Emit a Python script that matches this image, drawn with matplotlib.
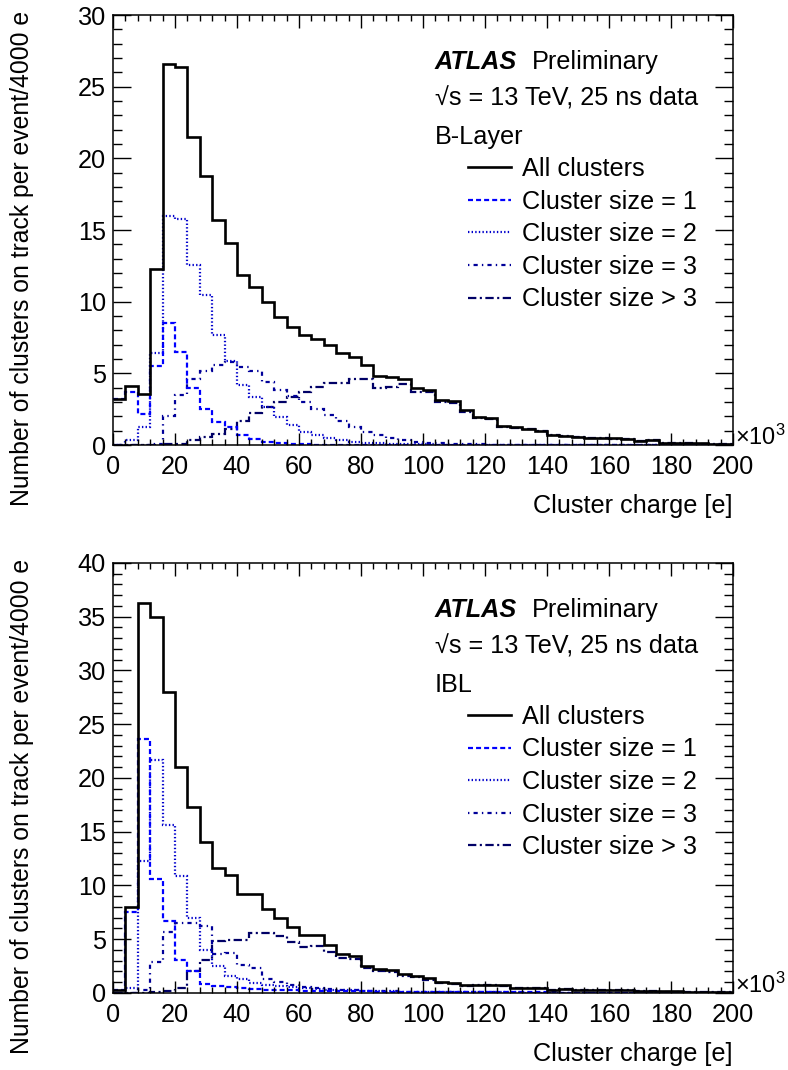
import numpy as np
import matplotlib
matplotlib.use('Agg')
import matplotlib.pyplot as plt
from matplotlib.lines import Line2D

plt.rcParams['font.family'] = ['Liberation Sans', 'DejaVu Sans']
plt.rcParams['mathtext.fontset'] = 'custom'
plt.rcParams['mathtext.rm'] = 'Liberation Sans'
plt.rcParams['mathtext.it'] = 'Liberation Sans:italic'
plt.rcParams['lines.scale_dashes'] = False

# bin contents, 4000 e bins from 0 to 200x10^3 e
all_blayer = [3.2, 4.15, 3.55, 12.3, 26.6, 26.4, 21.5, 18.8, 15.7, 14.1,
              11.9, 11.05, 9.95, 8.95, 8.25, 7.7, 7.4, 6.98, 6.4, 6.15,
              5.6, 4.81, 4.72, 4.6, 4.0, 3.88, 3.15, 3.05, 2.44, 1.98,
              1.86, 1.33, 1.23, 1.14, 1.0, 0.74, 0.65, 0.58, 0.53, 0.49,
              0.47, 0.44, 0.3, 0.35, 0.16, 0.15, 0.14, 0.12, 0.1, 0.1]
size1_blayer = [3.25, 3.7, 2.2, 5.5, 8.5, 6.5, 3.95, 2.55, 1.63, 1.28,
                0.7, 0.4, 0.23, 0.12, 0.08, 0.05, 0.04, 0.03, 0.03, 0.02,
                0.02, 0.02, 0.01, 0.01, 0.01, 0.01, 0.01, 0.01, 0.01, 0.01,
                0.01, 0.01, 0.01, 0.01, 0.01, 0.01, 0.01, 0.01, 0.01, 0.01,
                0.01, 0.01, 0.01, 0.01, 0.01, 0.01, 0.01, 0.01, 0.01, 0.01]
size2_blayer = [0.0, 0.35, 1.28, 6.4, 16.0, 15.8, 12.6, 10.5, 7.7, 5.9,
                4.2, 3.37, 2.67, 1.98, 1.4, 0.93, 0.7, 0.53, 0.35, 0.25,
                0.18, 0.13, 0.1, 0.08, 0.06, 0.05, 0.04, 0.03, 0.03, 0.02,
                0.02, 0.02, 0.02, 0.01, 0.01, 0.01, 0.01, 0.01, 0.01, 0.01,
                0.01, 0.01, 0.01, 0.01, 0.01, 0.01, 0.01, 0.01, 0.01, 0.01]
size3_blayer = [0.0, 0.0, 0.02, 0.1, 2.0, 3.5, 4.6, 5.2, 5.6, 5.8,
                5.45, 5.2, 4.4, 3.85, 3.45, 3.0, 2.55, 2.1, 1.7, 1.25,
                0.93, 0.7, 0.47, 0.35, 0.23, 0.16, 0.12, 0.09, 0.07, 0.05,
                0.04, 0.04, 0.03, 0.03, 0.02, 0.02, 0.02, 0.02, 0.01, 0.01,
                0.01, 0.01, 0.01, 0.01, 0.01, 0.01, 0.01, 0.01, 0.01, 0.01]
gt3_blayer = [0.0, 0.0, 0.0, 0.0, 0.05, 0.1, 0.35, 0.55, 0.8, 1.1,
              1.65, 2.25, 2.68, 3.0, 3.33, 3.7, 4.07, 4.3, 4.33, 4.58,
              4.58, 4.0, 4.07, 4.24, 3.74, 3.68, 3.02, 2.95, 2.33, 1.9,
              1.8, 1.28, 1.19, 1.1, 0.97, 0.72, 0.63, 0.56, 0.51, 0.47,
              0.45, 0.42, 0.29, 0.34, 0.15, 0.14, 0.13, 0.11, 0.1, 0.09]

all_ibl = [0.3, 8.0, 36.3, 35.0, 28.0, 21.0, 17.3, 14.05, 11.6, 10.95,
           9.2, 9.2, 7.8, 6.95, 6.1, 5.4, 5.35, 4.45, 3.62, 3.48,
           2.55, 2.26, 2.17, 1.8, 1.6, 1.4, 1.0, 0.93, 0.71, 0.78,
           0.78, 0.71, 0.47, 0.47, 0.47, 0.31, 0.37, 0.31, 0.3, 0.3,
           0.26, 0.25, 0.17, 0.2, 0.15, 0.14, 0.13, 0.12, 0.12, 0.1]
size1_ibl = [0.3, 7.5, 23.6, 10.6, 6.7, 3.1, 2.0, 0.8, 0.65, 0.55,
             0.45, 0.37, 0.3, 0.27, 0.25, 0.22, 0.2, 0.18, 0.16, 0.15,
             0.14, 0.13, 0.12, 0.11, 0.1, 0.1, 0.09, 0.08, 0.08, 0.07,
             0.07, 0.06, 0.06, 0.05, 0.05, 0.05, 0.04, 0.04, 0.04, 0.03,
             0.03, 0.03, 0.03, 0.02, 0.02, 0.02, 0.02, 0.02, 0.01, 0.01]
size2_ibl = [0.0, 0.45, 12.3, 21.7, 15.6, 10.85, 6.95, 4.0, 2.55, 1.6,
             1.3, 0.93, 0.75, 0.62, 0.53, 0.45, 0.38, 0.32, 0.27, 0.23,
             0.2, 0.17, 0.15, 0.13, 0.11, 0.1, 0.09, 0.08, 0.07, 0.06,
             0.06, 0.05, 0.05, 0.04, 0.04, 0.04, 0.03, 0.03, 0.03, 0.03,
             0.02, 0.02, 0.02, 0.02, 0.02, 0.01, 0.01, 0.01, 0.01, 0.01]
size3_ibl = [0.0, 0.02, 0.3, 2.9, 5.7, 6.5, 6.5, 6.2, 3.6, 3.75,
             2.6, 2.3, 1.3, 1.0, 0.75, 0.6, 0.45, 0.38, 0.3, 0.25,
             0.2, 0.17, 0.14, 0.12, 0.1, 0.09, 0.08, 0.07, 0.06, 0.05,
             0.05, 0.04, 0.04, 0.03, 0.03, 0.03, 0.02, 0.02, 0.02, 0.02,
             0.02, 0.01, 0.01, 0.01, 0.01, 0.01, 0.01, 0.01, 0.01, 0.01]
gt3_ibl = [0.0, 0.0, 0.0, 0.05, 0.15, 0.5, 2.0, 3.1, 4.8, 4.96,
           4.96, 5.6, 5.6, 5.3, 4.75, 4.3, 4.4, 3.8, 3.25, 3.15,
           2.3, 2.0, 1.95, 1.6, 1.45, 1.25, 0.9, 0.85, 0.63, 0.7,
           0.7, 0.65, 0.42, 0.43, 0.43, 0.28, 0.34, 0.28, 0.27, 0.27,
           0.23, 0.23, 0.15, 0.18, 0.13, 0.12, 0.11, 0.1, 0.1, 0.08]

bin_width = 4
labels = ['All clusters', 'Cluster size = 1', 'Cluster size = 2',
          'Cluster size = 3', 'Cluster size > 3']
colors = ['black', '#0000ff', '#0000cc', '#000099', '#000066']
styles = ['-', (0, (3.6, 2.2)), (0, (1.0, 1.6)), (0, (1.0, 3.0, 3.0, 3.0)),
          (0, (6.0, 2.5, 1.5, 2.5))]
widths = [1.9, 1.6, 1.6, 1.6, 1.6]

fs = 18.2

fig = plt.figure(figsize=(7.88, 10.7), dpi=100)

panels = [
    ([all_blayer, size1_blayer, size2_blayer, size3_blayer, gt3_blayer], 'B-Layer', 30,
     [0.1434, 0.584, 0.7868, 0.4019]),
    ([all_ibl, size1_ibl, size2_ibl, size3_ibl, gt3_ibl], 'IBL', 40,
     [0.1434, 0.0720, 0.7868, 0.4019]),
]

for series, layer, ymax, rect in panels:
    ax = fig.add_axes(rect)
    edges = np.arange(len(series[0]) + 1) * bin_width
    # draw the component histograms first, total last on top
    for i in [4, 3, 2, 1, 0]:
        ax.stairs(series[i], edges, baseline=None, color=colors[i],
                  linestyle=styles[i], linewidth=widths[i])
    ax.set_xlim(0, 200)
    ax.set_ylim(0, ymax)
    ax.set_xticks(np.arange(0, 201, 20))
    ax.set_xticks(np.arange(0, 201, 4), minor=True)
    ax.set_yticks(np.arange(0, ymax + 1, 5))
    ax.set_yticks(np.arange(0, ymax + 1, 1), minor=True)
    ax.tick_params(axis='both', which='both', direction='in', top=True, right=True,
                   labelsize=fs, width=1.0)
    ax.tick_params(axis='x', which='major', length=9, pad=7)
    ax.tick_params(axis='x', which='minor', length=4.5)
    ax.tick_params(axis='y', which='major', length=13, pad=5)
    ax.tick_params(axis='y', which='minor', length=6.5)
    for sp in ax.spines.values():
        sp.set_linewidth(1.1)

    ax.set_xlabel('Cluster charge [e]', fontsize=fs, loc='right')
    ax.xaxis.set_label_coords(1.0, -0.113)
    ax.set_ylabel('Number of clusters on track per event/4000 e', fontsize=17.8, loc='top')
    ax.yaxis.set_label_coords(-0.128, 1.01)

    ax.text(1.004, 0.0, '\u00d710$^{3}$', transform=ax.transAxes, fontsize=17,
            ha='left', va='baseline')

    ax.text(0.519, 0.874, 'ATLAS', transform=ax.transAxes, fontsize=fs,
            fontweight='bold', fontstyle='italic', va='baseline')
    ax.text(0.676, 0.874, 'Preliminary', transform=ax.transAxes, fontsize=fs,
            va='baseline')
    ax.text(0.519, 0.79, '\u221as = 13 TeV, 25 ns data',
            transform=ax.transAxes, fontsize=fs, va='baseline')
    ax.text(0.519, 0.70, layer, transform=ax.transAxes, fontsize=fs, va='baseline')

    handles = [Line2D([], [], color=colors[i], linestyle=styles[i], linewidth=widths[i])
               for i in range(5)]
    ax.legend(handles, labels, loc='upper left', bbox_to_anchor=(0.5726, 0.67),
              frameon=False, fontsize=fs, borderpad=0, borderaxespad=0,
              handlelength=1.7, handletextpad=0.45, labelspacing=0.34)

fig.savefig('out.png', dpi=100)
